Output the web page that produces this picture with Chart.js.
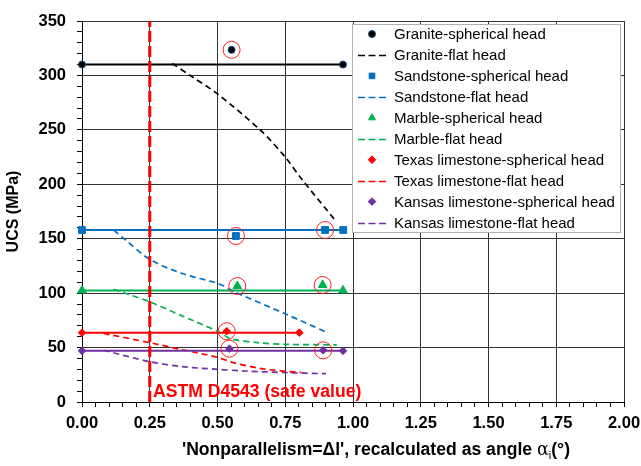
<!DOCTYPE html>
<html><head><meta charset="utf-8">
<script src="https://cdn.jsdelivr.net/npm/chart.js@4/dist/chart.umd.min.js"></script>
<style>html,body{margin:0;padding:0;background:#fff}#wrap{width:641px;height:466px}</style>
</head><body><div id="wrap"><canvas id="c" width="641" height="466"></canvas></div>
<script>
// ---- tick labels ----
const xTickLabels = ['0.00','0.25','0.50','0.75','1.00','1.25','1.50','1.75','2.00'];
const yTickLabels = [0, 50, 100, 150, 200, 250, 300, 350];

// ---- spherical head (measured points) ----
const graniteSphX   = [0, 0.552, 0.963];
const graniteSphY   = [310, 323.5, 310];
const sandstoneSphX = [0, 0.568, 0.897, 0.964];
const sandstoneSphY = [158, 152.5, 158, 158];
const marbleSphX    = [0, 0.573, 0.888, 0.963];
const marbleSphY    = [102.5, 106.5, 107.5, 102.5];
const texasSphX     = [0, 0.534, 0.802];
const texasSphY     = [63.7, 65, 63.7];
const kansasSphX    = [0, 0.544, 0.89, 0.963];
const kansasSphY    = [47, 49, 47.5, 47];

// ---- spherical head mean lines ----
const graniteMeanX = [0, 0.963],   graniteMeanY = [310, 310];
const sandstoneMeanX = [0, 0.964], sandstoneMeanY = [158, 158];
const marbleMeanX = [0, 0.963],    marbleMeanY = [102.5, 102.5];
const texasMeanX = [0, 0.802],     texasMeanY = [63.7, 63.7];
const kansasMeanX = [0, 0.963],    kansasMeanY = [47, 47];

// ---- flat head curves ----
const graniteFlatX   = [0.333, 0.405, 0.5, 0.657, 0.75, 0.81, 0.934];
const graniteFlatY   = [311, 299, 283, 250, 225, 205, 167];
const sandstoneFlatX = [0.117, 0.16, 0.25, 0.37, 0.5, 0.565, 0.75, 0.903];
const sandstoneFlatY = [158, 149, 131, 118, 109, 101, 81, 64];
const marbleFlatX    = [0.117, 0.25, 0.37, 0.5, 0.55, 0.65, 0.75, 0.94];
const marbleFlatY    = [103.5, 92, 79, 65, 58, 54.5, 53, 52.5];
const texasFlatX     = [0.08, 0.25, 0.37, 0.5, 0.56, 0.68, 0.81];
const texasFlatY     = [63, 54.5, 48, 41, 36, 30, 27];
const kansasFlatX    = [0.08, 0.25, 0.37, 0.5, 0.6, 0.75, 0.9];
const kansasFlatY    = [47.5, 37, 32.5, 30, 28.5, 27, 26];

// ---- circled (highlighted) points ----
const highlightX = [0.552, 0.568, 0.897, 0.573, 0.888, 0.534, 0.544, 0.89];
const highlightY = [323.5, 152.5, 158, 106.5, 107.5, 65, 49, 47.5];

// ---- ASTM limit ----
const astmX = [0.25, 0.25];
const astmY = [0, 350];
const astmLabel = 'ASTM D4543 (safe value)';

const pts = (xs, ys) => xs.map((x, i) => ({x: x, y: ys[i]}));

const C = {granite:'#000000', sandstone:'#0070C0', marble:'#00B050', texas:'#FF0000', kansas:'#7030A0'};
const FONT = "'Liberation Sans', Arial, sans-serif";

function sph(label, xs, ys, color, style, r, border){
  return {label, data: pts(xs, ys), showLine:false, pointStyle:style, pointRadius:r,
    pointBackgroundColor: color, pointBorderColor: border || color, pointBorderWidth: 1,
    order: 1, clip: false, legendKind:'marker'};
}
function flat(label, xs, ys, color){
  return {label, data: pts(xs, ys), showLine:true, borderColor: color, borderWidth:1.7,
    borderDash:[6,4], pointRadius:0, tension:0.3, order:4, legendKind:'line'};
}
function mean(xs, ys, color){
  return {label:'', data: pts(xs, ys), showLine:true, borderColor: color, borderWidth:2,
    pointRadius:0, order:3, clip:false};
}

const datasets = [
  sph('Granite-spherical head', graniteSphX, graniteSphY, '#000', 'circle', 3.5, '#1F4E79'),
  flat('Granite-flat head', graniteFlatX, graniteFlatY, C.granite),
  sph('Sandstone-spherical head', sandstoneSphX, sandstoneSphY, C.sandstone, 'rect', 4.8),
  flat('Sandstone-flat head', sandstoneFlatX, sandstoneFlatY, C.sandstone),
  sph('Marble-spherical head', marbleSphX, marbleSphY, C.marble, 'triangle', 5),
  flat('Marble-flat head', marbleFlatX, marbleFlatY, C.marble),
  sph('Texas limestone-spherical head', texasSphX, texasSphY, C.texas, 'rectRot', 3.8),
  flat('Texas limestone-flat head', texasFlatX, texasFlatY, C.texas),
  sph('Kansas limestone-spherical head', kansasSphX, kansasSphY, C.kansas, 'rectRot', 3.8),
  flat('Kansas limestone-flat head', kansasFlatX, kansasFlatY, C.kansas),
  mean(graniteMeanX, graniteMeanY, C.granite),
  mean(sandstoneMeanX, sandstoneMeanY, C.sandstone),
  mean(marbleMeanX, marbleMeanY, C.marble),
  mean(texasMeanX, texasMeanY, C.texas),
  mean(kansasMeanX, kansasMeanY, C.kansas),
  {label:'', data: pts(highlightX, highlightY), showLine:false, pointStyle:'circle', pointRadius:8.5,
    pointBackgroundColor:'rgba(0,0,0,0)', pointBorderColor:'#FF2020', pointBorderWidth:1, order:0, clip:false},
  {label:'', data: pts(astmX, astmY), showLine:true, borderColor:'#FF0000', borderWidth:3,
    borderDash:[11,4], pointRadius:0, order:2}
];

const near = (v, step) => Math.abs(v/step - Math.round(v/step)) < 1e-6;

const overlay = {
  id:'overlay',
  afterDatasetsDraw(chart){
    const ctx = chart.ctx;
    ctx.save();
    ctx.fillStyle = '#FF0000';
    ctx.font = "bold 17.6px " + FONT;
    ctx.textBaseline = 'alphabetic';
    ctx.textAlign = 'left';
    ctx.fillText(astmLabel, 153, 397);
    ctx.restore();
  },
  afterDraw(chart){
    const ctx = chart.ctx;
    ctx.save();
    // legend
    const bx = 352, by = 24, bw = 269, bh = 209;
    ctx.fillStyle = '#fff';
    ctx.fillRect(bx, by, bw, bh);
    ctx.strokeStyle = '#b0b0b0';
    ctx.lineWidth = 1;
    ctx.strokeRect(bx + 0.5, by + 0.5, bw - 1, bh - 1);
    const items = chart.data.datasets.filter(d => d.legendKind);
    ctx.font = "15px " + FONT;
    ctx.textBaseline = 'middle';
    items.forEach((d, i) => {
      const y = 34 + i * 20.95;
      if (d.legendKind === 'line') {
        ctx.strokeStyle = d.borderColor;
        ctx.lineWidth = 1.7;
        ctx.setLineDash([7, 3.5]);
        ctx.beginPath(); ctx.moveTo(358, Math.round(y) + 0.5); ctx.lineTo(387, Math.round(y) + 0.5); ctx.stroke();
        ctx.setLineDash([]);
      } else {
        ctx.fillStyle = d.pointBackgroundColor;
        ctx.strokeStyle = d.pointBorderColor;
        ctx.lineWidth = 1;
        Chart.helpers.drawPoint(ctx, {pointStyle: d.pointStyle, radius: Math.min(d.pointRadius, 4), rotation: 0, borderWidth: 1}, 372, y);
      }
      ctx.fillStyle = '#000';
      ctx.fillText(d.label, 394, y + 1);
    });
    // x axis title
    const base = 455;
    const boldF = "bold 17.6px " + FONT;
    const parts = [
      {t:"'Nonparallelism=\u0394l', recalculated as angle ", f: boldF, dy:0},
      {t:"\u03B1", f:"17.6px 'DejaVu Serif', serif", dy:0},
      {t:"i", f:"11px " + FONT, dy:4},
      {t:"(\u00B0)", f: boldF, dy:0}
    ];
    let total = 0;
    parts.forEach(p => { ctx.font = p.f; p.w = ctx.measureText(p.t).width; total += p.w; });
    let x = 376 - total/2;
    ctx.fillStyle = '#000';
    ctx.textBaseline = 'alphabetic';
    ctx.textAlign = 'left';
    parts.forEach(p => { ctx.font = p.f; ctx.fillText(p.t, x, base + p.dy); x += p.w; });
    ctx.restore();
  }
};

new Chart(document.getElementById('c'), {
  type: 'scatter',
  data: {datasets},
  plugins: [overlay],
  options: {
    responsive: false,
    animation: false,
    layout: {padding: {top: 21, right: 17, left: 0, bottom: 0}},
    plugins: {legend: {display: false}, tooltip: {enabled: false}},
    scales: {
      x: {
        type: 'linear', min: 0, max: 2,
        ticks: {stepSize: 0.05, autoSkip: false, maxRotation: 0, color: '#000', padding: 7,
          font: {family: FONT, size: 16.5, weight: 'bold'},
          callback: v => { const i = xTickLabels.indexOf(Number(v).toFixed(2)); return (near(v, 0.25) && i >= 0) ? xTickLabels[i] : ''; }},
        grid: {color: c => (c.tick && near(c.tick.value, 0.25)) ? '#333' : 'rgba(0,0,0,0)', tickColor: '#000', tickLength: 5, lineWidth: 1},
        border: {color: '#000', width: 1},
        afterFit: s => { s.height = 64; s.paddingRight = 0; s.paddingLeft = 0; }
      },
      y: {
        type: 'linear', min: 0, max: 350,
        ticks: {stepSize: 10, autoSkip: false, color: '#000', padding: 11,
          font: {family: FONT, size: 16.5, weight: 'bold'},
          callback: v => (near(v, 50) && yTickLabels.includes(Math.round(v))) ? String(Math.round(v)) : ''},
        grid: {color: c => (c.tick && near(c.tick.value, 50)) ? '#333' : 'rgba(0,0,0,0)', tickColor: '#000', tickLength: 5, lineWidth: 1},
        border: {color: '#000', width: 1},
        title: {display: true, text: 'UCS (MPa)', color: '#000', font: {family: FONT, size: 16, weight: 'bold'}, padding: {top: 4, bottom: 0}},
        afterFit: s => { s.width = 82; s.paddingTop = 0; s.paddingBottom = 0; }
      }
    }
  }
});
</script>
</body></html>
